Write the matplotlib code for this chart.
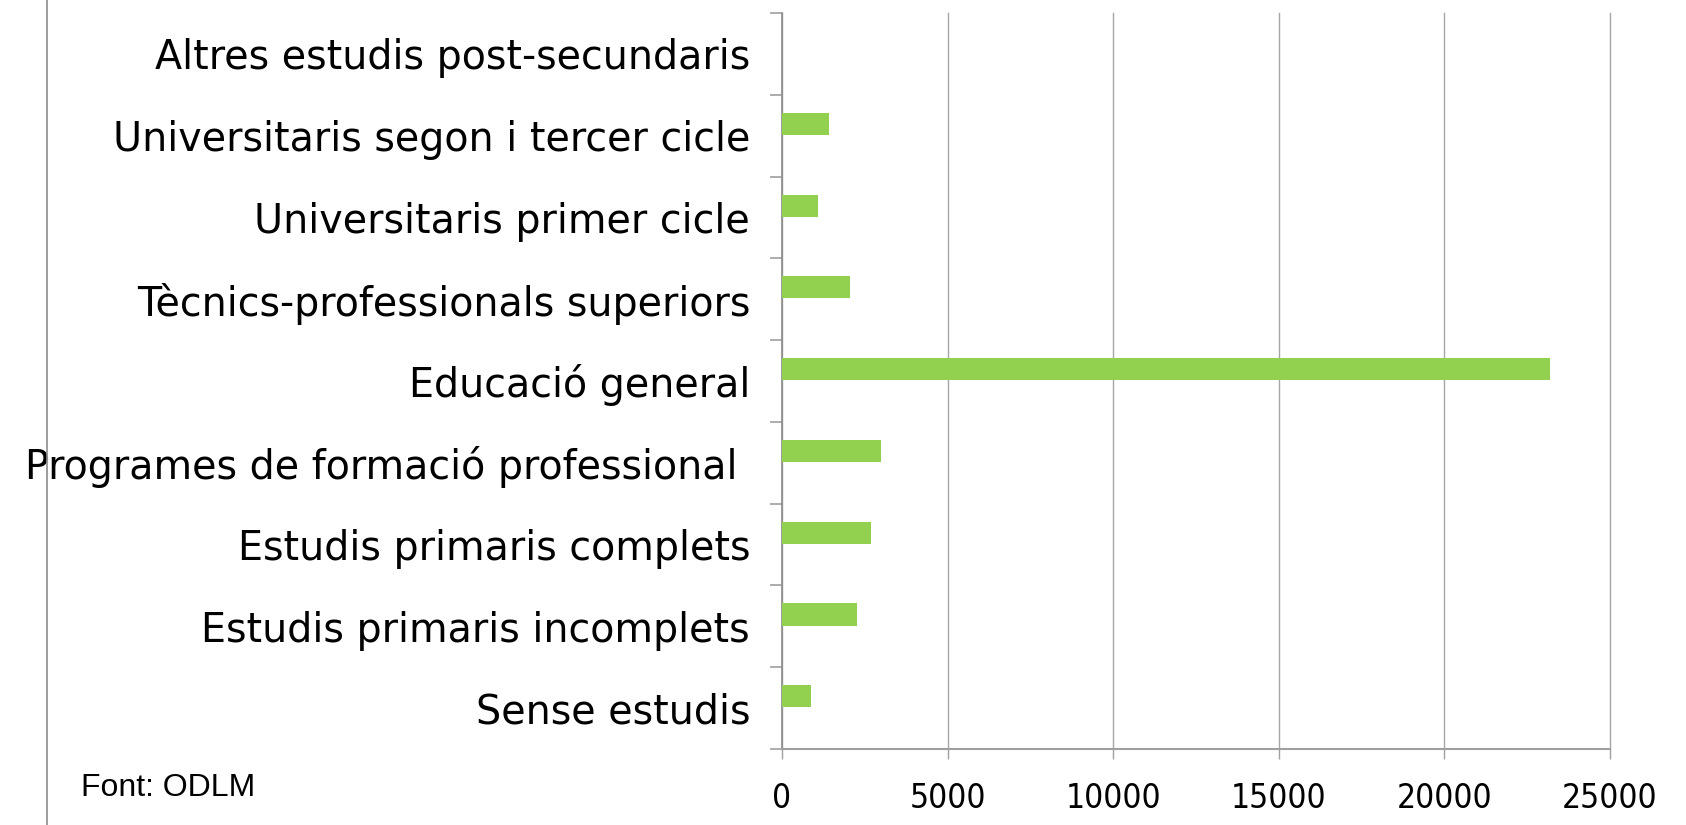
import numpy as np
import matplotlib.pyplot as plt
from matplotlib.lines import Line2D
from matplotlib import font_manager as fm

categories = [
    "Sense estudis",
    "Estudis primaris incomplets",
    "Estudis primaris complets",
    "Programes de formació professional ",
    "Educació general",
    "Tècnics-professionals superiors",
    "Universitaris primer cicle",
    "Universitaris segon i tercer cicle",
    "Altres estudis post-secundaris",
]
values = [866, 2254, 2677, 2979, 23180, 2043, 1077, 1410, 0]
xticks = [0, 5000, 10000, 15000, 20000, 25000]


def narrow_font(size):
    # look for some condensed sans face, else plain Liberation Sans
    for fam, stretch in [("Liberation Sans Narrow", "normal"),
                         ("DejaVu Sans", "condensed"),
                         ("Roboto Condensed", "normal"),
                         ("Open Sans Condensed", "normal")]:
        fp = fm.FontProperties(family=fam, stretch=stretch, size=size)
        try:
            path = fm.findfont(fp, fallback_to_default=False)
        except Exception:
            continue
        if "narrow" in path.lower() or "condensed" in path.lower():
            return fm.FontProperties(fname=path, size=size), True
    return fm.FontProperties(family="Liberation Sans", size=22), False


W, H = 1686, 825
fig = plt.figure(figsize=(W / 100, H / 100), dpi=100)
ax = fig.add_axes([782 / W, 1 - 749 / H, (1610 - 782) / W, (749 - 13) / H])

pos = np.arange(len(categories))
ax.barh(pos + 0.145, values, height=0.27, color="#92D050", zorder=3)

ax.set_xlim(0, 25000)
ax.set_ylim(-0.5, len(categories) - 0.5)

# category ticks sit between bars, labels in the middle
ax.set_yticks(np.arange(-0.5, len(categories)), labels=[])
ax.set_yticks(pos, labels=categories, minor=True)
ax.tick_params(axis="y", which="major", length=9, width=1.2, color="#A0A0A0", direction="out")
ax.tick_params(axis="y", which="minor", length=0, pad=23)
for t in ax.get_yticklabels(minor=True):
    t.set_fontfamily("DejaVu Sans")
    t.set_fontsize(28.5)

fp, is_narrow = narrow_font(24)
ax.set_xticks(xticks, labels=[str(v) for v in xticks])
ax.tick_params(axis="x", length=7, width=1, color="#A0A0A0", pad=17)
for t in ax.get_xticklabels():
    t.set_fontproperties(fp)

ax.grid(axis="x", color="#A6A6A6", lw=1, zorder=0)
for g in ax.get_xgridlines():
    g.set_clip_on(False)
for s in ["top", "right"]:
    ax.spines[s].set_visible(False)
ax.spines["left"].set_color("#8C8C8C")
ax.spines["left"].set_linewidth(1.2)
ax.spines["bottom"].set_color("#A0A0A0")
ax.spines["bottom"].set_linewidth(1.5)

fig.add_artist(Line2D([47 / W, 47 / W], [0, 1], color="#8C8C8C", lw=1.2))
fig.text(81 / W, 1 - 788 / H, "Font: ODLM", fontsize=23, family="Liberation Sans", va="center")

fig.savefig("out.png", dpi=100)
